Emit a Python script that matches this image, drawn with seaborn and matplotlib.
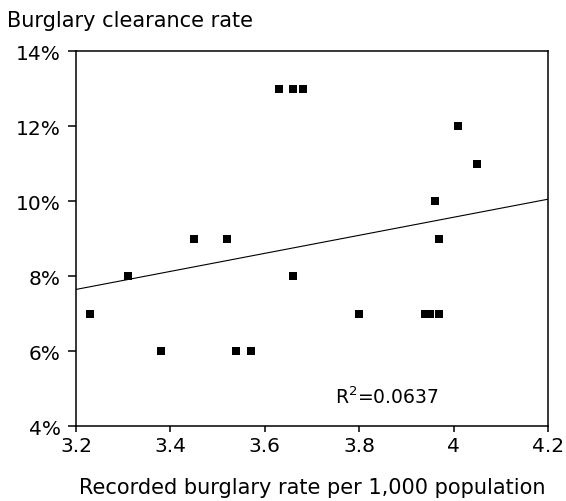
import numpy as np
import pandas as pd
import seaborn as sns
import matplotlib.pyplot as plt
from matplotlib.ticker import PercentFormatter

# recorded burglary rate per 1,000 population
burglary_rate = [3.23, 3.31, 3.38, 3.45, 3.52, 3.54, 3.57, 3.63, 3.66, 3.68,
                 3.66, 3.80, 3.94, 3.95, 3.97, 3.96, 3.97, 4.01, 4.05]
# clearance rate (fraction)
clearance = [0.07, 0.08, 0.06, 0.09, 0.09, 0.06, 0.06, 0.13, 0.13, 0.13,
             0.08, 0.07, 0.07, 0.07, 0.07, 0.10, 0.09, 0.12, 0.11]
r_squared = "0.0637"

data = pd.DataFrame({"rate": burglary_rate, "clear": clearance})

sns.set_style("white")
plt.rcParams['font.family'] = ['DejaVu Sans']
plt.rcParams['text.color'] = 'black'
plt.rcParams['axes.labelcolor'] = 'black'

fig = plt.figure(figsize=(5.66, 5.02), dpi=100)
ax = fig.add_axes([0.1343, 0.1494, 0.8337, 0.7470])
ax.set_xlim(3.2, 4.2)
ax.set_ylim(0.04, 0.14)

sns.regplot(x="rate", y="clear", data=data, ax=ax, ci=None, truncate=False,
            marker="s",
            scatter_kws=dict(s=26, color="black", linewidths=0, alpha=1),
            line_kws=dict(color="black", lw=0.8))

ax.set_xlim(3.2, 4.2)
ax.set_ylim(0.04, 0.14)
ax.set_xticks([3.2, 3.4, 3.6, 3.8, 4.0, 4.2])
ax.set_xticklabels(["3.2", "3.4", "3.6", "3.8", "4", "4.2"])
ax.set_yticks(np.arange(0.04, 0.141, 0.02))
ax.yaxis.set_major_formatter(PercentFormatter(1.0, decimals=0))
ax.tick_params(axis="both", direction="out", width=1.1,
               labelsize=14.5, colors="black", bottom=True, left=True)
ax.tick_params(axis="x", length=4, pad=3)
ax.tick_params(axis="y", length=6, pad=5)
for s in ax.spines.values():
    s.set_visible(True)
    s.set_color("black")
    s.set_linewidth(1.1)

ax.set_xlabel("Recorded burglary rate per 1,000 population", fontsize=15,
              labelpad=16)
ax.set_ylabel("")
fig.text(0.012, 0.958, "Burglary clearance rate", fontsize=15, va="center")
ax.text(3.859, 0.048, "R$^2$=" + r_squared, fontsize=13.5, ha="center",
        va="center")

plt.savefig("out.png", dpi=100)
